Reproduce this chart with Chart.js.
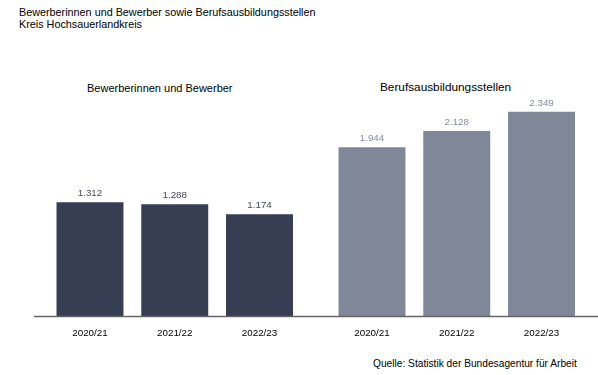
<!DOCTYPE html>
<html>
<head>
<meta charset="utf-8">
<script src="https://cdn.jsdelivr.net/npm/chart.js@4"></script>
<style>
  body { margin: 0; background: #fff; font-family: "Liberation Sans", Arial, sans-serif; }
  #wrap { position: relative; width: 598px; height: 375px; overflow: hidden; }
  .txt { position: absolute; color: #000; white-space: nowrap; }
  canvas { position: absolute; top: 0; }
</style>
</head>
<body>
<div id="wrap">
  <div class="txt" style="left:19px; top:6px; font-size:10.8px; line-height:12px;">Bewerberinnen und Bewerber sowie Berufsausbildungsstellen<br>Kreis Hochsauerlandkreis</div>
  <div class="txt" style="left:87px; top:82px; font-size:11px;">Bewerberinnen und Bewerber</div>
  <div class="txt" style="left:380px; top:80px; font-size:11.8px;">Berufsausbildungsstellen</div>
  <div class="txt" style="left:373px; top:358px; font-size:10.2px;">Quelle: Statistik der Bundesagentur für Arbeit</div>
  <div style="position:absolute; left:34px; top:0; width:272px; height:375px;"><canvas id="left"></canvas></div>
  <div style="position:absolute; left:306px; top:0; width:292px; height:375px;"><canvas id="right"></canvas></div>
</div>
<script>
const years = ['2020/21', '2021/22', '2022/23'];
const bewerber = [1312, 1288, 1174];
const stellen = [1944, 2128, 2349];

function fmt(v) {
    return v.toLocaleString('de-DE');
}

// labels above the bars + baseline across the whole canvas
const barLabels = {
    id: 'barLabels',
    afterDatasetsDraw(chart, args, opts) {
        let ctx = chart.ctx;
        let meta = chart.getDatasetMeta(0);
        ctx.save();
        ctx.font = '9.8px "Liberation Sans", Arial, sans-serif';
        ctx.fillStyle = opts.color;
        ctx.textAlign = 'center';
        ctx.textBaseline = 'bottom';
        meta.data.forEach((bar, i) => {
            ctx.fillText(fmt(chart.data.datasets[0].data[i]), bar.x, bar.y - 4);
        });
        let y0 = chart.scales.y.getPixelForValue(0);
        ctx.strokeStyle = '#666';
        ctx.lineWidth = 1.5;
        ctx.beginPath();
        ctx.moveTo(0, y0);
        ctx.lineTo(chart.width, y0);
        ctx.stroke();
        ctx.restore();
    }
};

function barChart(id, values, color, labelColor, padLeft, padRight) {
    const data = {
        labels: years,
        datasets: [{
            data: values,
            backgroundColor: color,
            barPercentage: 0.79,
            categoryPercentage: 1
        }]
    };

    const config = {
        type: 'bar',
        data: data,
        options: {
            responsive: true,
            maintainAspectRatio: false,
            animation: false,
            layout: { padding: { top: 90, bottom: 28.5, left: padLeft, right: padRight } },
            plugins: {
                legend: { display: false },
                tooltip: { enabled: false },
                barLabels: { color: labelColor }
            },
            scales: {
                x: {
                    grid: { display: false, drawTicks: false },
                    border: { display: false },
                    ticks: { color: '#000', padding: 11, font: { size: 9.8, family: '"Liberation Sans", Arial, sans-serif' } },
                    afterFit(scale) { scale.height = 30; }
                },
                y: { display: false, min: 0, max: 2600 }
            }
        },
        plugins: [barLabels]
    };

    let ctx = document.getElementById(id).getContext("2d")

    new Chart(ctx, config)
}

barChart('left', bewerber, '#373e53', '#434959', 13.6, 4.1);
barChart('right', stellen, '#7f8799', '#868da0', 23.6, 14.1);
</script>
</body>
</html>
